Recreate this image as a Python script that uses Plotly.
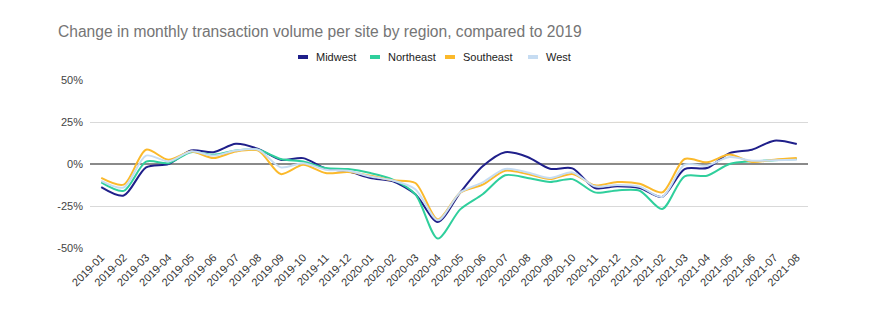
import plotly.graph_objects as go

months = ["2019-01","2019-02","2019-03","2019-04","2019-05","2019-06","2019-07","2019-08",
          "2019-09","2019-10","2019-11","2019-12","2020-01","2020-02","2020-03","2020-04",
          "2020-05","2020-06","2020-07","2020-08","2020-09","2020-10","2020-11","2020-12",
          "2021-01","2021-02","2021-03","2021-04","2021-05","2021-06","2021-07","2021-08"]

midwest   = [-13.7,-18.8,-2.0,0.0,8.0,7.0,12.0,9.0,2.5,3.5,-2.6,-4.4,-8.3,-10.3,-18.0,-34.5,
             -17.0,-1.4,7.0,4.2,-2.8,-2.6,-14.3,-13.3,-14.3,-19.6,-3.0,-2.4,6.5,8.5,13.9,11.9]
northeast = [-11.0,-16.0,1.4,0.5,7.0,5.5,8.0,8.5,3.0,1.5,-2.4,-3.0,-5.4,-9.3,-18.0,-44.4,
             -27.0,-18.0,-6.7,-8.3,-10.7,-9.0,-16.9,-15.7,-15.9,-26.8,-7.3,-7.0,0.0,1.6,2.2,3.0]
southeast = [-8.3,-12.3,8.5,2.5,7.5,3.5,7.5,8.0,-6.0,-0.5,-5.4,-4.8,-7.0,-9.7,-11.3,-33.0,
             -17.0,-12.3,-4.0,-6.0,-9.0,-6.0,-12.7,-10.7,-11.7,-16.9,3.0,1.0,5.6,1.2,2.6,3.6]
west      = [-10.0,-14.0,5.0,1.5,7.5,5.0,8.0,8.5,-2.0,0.5,-3.4,-4.0,-7.5,-9.8,-15.0,-33.5,
             -17.0,-11.0,-3.0,-5.0,-8.3,-5.0,-13.3,-12.5,-13.5,-19.6,-0.4,-1.0,4.2,2.0,2.2,2.6]

series_names = ["Midwest", "Northeast", "Southeast", "West"]
series_values = [midwest, northeast, southeast, west]
series_colors = ["#1f1f8a", "#2fcf9c", "#fbb92b", "#c6dcf2"]

tick_vals = [50, 25, 0, -25, -50]
tick_text = ["50%", "25%", "0%", "-25%", "-50%"]

# layout geometry (pixels)
W, H = 878, 323
L, R, T, B = 90, 70, 80, 75
PW, PH = W - L - R, H - T - B

def px_x(p):
    return (p - L) / PW

def px_y(p):
    return (H - B - p) / PH

fig = go.Figure()
for name, vals, color in zip(series_names, series_values, series_colors):
    fig.add_trace(go.Scatter(x=months, y=vals, name=name, mode="lines", showlegend=False,
                             line=dict(color=color, width=2, shape="spline", smoothing=0.8)))

# compact legend (short thick bars + labels), centred above the plot
legend_sym_px = [298, 370, 445, 528]
legend_y = px_y(57)
shapes, annotations = [], []
for name, color, sx in zip(series_names, series_colors, legend_sym_px):
    shapes.append(dict(type="line", xref="paper", yref="paper",
                       x0=px_x(sx), x1=px_x(sx + 10), y0=legend_y, y1=legend_y,
                       line=dict(color=color, width=4)))
    annotations.append(dict(text=name, xref="paper", yref="paper", x=px_x(sx + 16), y=legend_y,
                            xanchor="left", yanchor="middle", showarrow=False,
                            font=dict(size=11, color="#222222")))

fig.update_layout(
    width=W, height=H,
    margin=dict(l=L, r=R, t=T, b=B),
    paper_bgcolor="white", plot_bgcolor="white",
    font=dict(family="Liberation Sans, Arial, sans-serif", color="#444444", size=11),
    title=dict(text="Change in monthly transaction volume per site by region, compared to 2019",
               x=58/W, xanchor="left", xref="container",
               y=1-32/H, yanchor="middle", yref="container",
               font=dict(size=15.6, color="#757575")),
    showlegend=False,
    shapes=shapes,
    annotations=annotations,
)

fig.update_xaxes(type="category", tickangle=-45, showgrid=False, showline=False,
                 ticks="", tickfont=dict(size=11, color="#333333"), range=[-0.5, 31.5])
fig.update_yaxes(range=[-50, 50], tickvals=tick_vals, ticktext=tick_text,
                 gridcolor="#d9d9d9", gridwidth=1, zeroline=True, zerolinecolor="#8a8a8a",
                 zerolinewidth=1.5, showline=False, ticklabelstandoff=6,
                 tickfont=dict(size=11, color="#444444"))

fig.write_html("out.html")
